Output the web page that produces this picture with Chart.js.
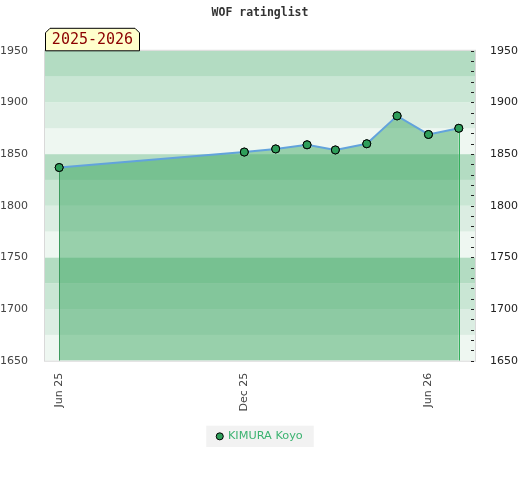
<!DOCTYPE html>
<html>
<head>
<meta charset="utf-8">
<title>WOF ratinglist</title>
<script src="https://cdn.jsdelivr.net/npm/chart.js@4.4.1/dist/chart.umd.min.js"></script>
<style>
  html, body { margin: 0; padding: 0; background: #fff; }
  #wrap { width: 520px; height: 480px; }
</style>
</head>
<body>
<div id="wrap"><canvas id="ratingChart" width="520" height="480"></canvas></div>
<script>
const titleText = 'WOF ratinglist';
const seasonLabel = '2025-2026';
const playerName = 'KIMURA Koyo';

const listDates = ['2025-06-01', '2025-12-01', '2026-01-01', '2026-02-01', '2026-03-01',
  '2026-04-01', '2026-05-01', '2026-06-01', '2026-07-01'];
const ratings = [1837, 1852, 1855, 1859, 1854, 1860, 1887, 1869, 1875];

const tickDates = ['2025-06-01', '2025-12-01', '2026-06-01'];
const tickLabels = ['Jun 25', 'Dec 25', 'Jun 26'];

const xMin = '2025-05-18';
const xMax = '2026-07-17';
const yMin = 1650;
const yMax = 1950;

// background stripes, 25 points each, repeating every 100 (from x50 upwards)
const bandColors = ['#eef7f1', '#dbede2', '#c9e6d4', '#b3dcc2'];

const ctx = document.getElementById('ratingChart').getContext('2d');

const stripes = {
  id: 'stripes',
  beforeDatasetsDraw(chart) {
    const { ctx, chartArea: a, scales: { y } } = chart;
    ctx.save();
    for (let v = yMin; v < yMax; v += 25) {
      const top = y.getPixelForValue(v + 25);
      const bottom = y.getPixelForValue(v);
      ctx.fillStyle = bandColors[((v % 100) / 25 + 2) % 4];
      ctx.fillRect(a.left, top, a.right - a.left, bottom - top);
    }
    ctx.restore();
  }
};

const extras = {
  id: 'extras',
  beforeDraw(chart) {
    // legend background
    const box = chart.legend.legendHitBoxes[0];
    if (!box) return;
    const c = chart.ctx;
    c.save();
    c.fillStyle = '#f2f2f2';
    c.fillRect(box.left - 11, box.top - 5, box.width + 22, box.height + 10);
    c.restore();
  },
  afterDatasetsDraw(chart) {
    const { ctx, chartArea: a, scales: { y2 } } = chart;
    const pts = chart.getDatasetMeta(0).data;
    ctx.save();
    // drop lines from first and last point
    ctx.lineWidth = 1;
    [[pts[0], '#3d9a5e'], [pts[pts.length - 1], '#34b05c']].forEach(([p, col]) => {
      ctx.strokeStyle = col;
      ctx.beginPath();
      ctx.moveTo(Math.round(p.x) + 0.5, p.y);
      ctx.lineTo(Math.round(p.x) + 0.5, a.bottom);
      ctx.stroke();
    });
    // plot border
    ctx.strokeStyle = '#d9d9d9';
    ctx.strokeRect(a.left - 0.5, a.top - 0.5, a.right - a.left + 1, a.bottom - a.top + 1);
    // minor tick marks on the right axis, drawn inside
    ctx.strokeStyle = '#222';
    y2.ticks.forEach(t => {
      const py = Math.round(y2.getPixelForValue(t.value)) + 0.5;
      ctx.beginPath();
      ctx.moveTo(a.right - 4, py);
      ctx.lineTo(a.right - 1, py);
      ctx.stroke();
    });
    ctx.restore();
    // points again so they sit above drop lines
    pts.forEach(p => p.draw(ctx));
  },
  afterDraw(chart) {
    const { ctx, chartArea: a } = chart;
    const left = a.left, right = a.left + 95, top = a.top - 23, bottom = a.top;
    ctx.save();
    ctx.beginPath();
    ctx.moveTo(left + 0.5, bottom);
    ctx.lineTo(left + 0.5, top + 5);
    ctx.lineTo(left + 5, top + 0.5);
    ctx.lineTo(right - 5, top + 0.5);
    ctx.lineTo(right - 0.5, top + 5);
    ctx.lineTo(right - 0.5, bottom);
    ctx.closePath();
    ctx.fillStyle = '#ffffcc';
    ctx.fill();
    ctx.strokeStyle = '#000';
    ctx.lineWidth = 1;
    ctx.stroke();
    ctx.fillStyle = '#8b0000';
    ctx.font = '15px "DejaVu Sans Mono", monospace';
    ctx.textAlign = 'center';
    ctx.textBaseline = 'middle';
    ctx.fillText(seasonLabel, (left + right) / 2, top + 12);
    ctx.restore();
  }
};

const tickFont = { family: '"DejaVu Sans", sans-serif', size: 11 };

new Chart(ctx, {
  type: 'line',
  data: {
    datasets: [{
      label: playerName,
      data: listDates.map((d, i) => ({ x: Date.parse(d), y: ratings[i] })),
      borderColor: '#62a3dc',
      borderWidth: 2,
      backgroundColor: 'rgba(46, 160, 87, 0.45)',
      fill: 'start',
      tension: 0,
      pointRadius: 4,
      pointHoverRadius: 4,
      pointBackgroundColor: '#2e9e5a',
      pointBorderColor: '#000',
      pointBorderWidth: 1
    }]
  },
  options: {
    responsive: false,
    animation: false,
    layout: { padding: { top: 0, bottom: 28, left: 0, right: 0 } },
    plugins: {
      title: {
        display: true,
        text: titleText,
        color: '#333',
        font: { family: '"DejaVu Sans Mono", monospace', size: 11.5, weight: 'bold' },
        padding: { top: 6, bottom: 31 }
      },
      legend: {
        position: 'bottom',
        labels: {
          usePointStyle: true,
          pointStyle: 'circle',
          boxWidth: 5,
          boxHeight: 5,
          color: '#3cb371',
          font: { family: '"DejaVu Sans", sans-serif', size: 11.3 },
          padding: 10,
          generateLabels: () => [{
            text: playerName,
            fillStyle: '#2e9e5a',
            strokeStyle: '#000',
            lineWidth: 1,
            pointStyle: 'circle',
            fontColor: '#3cb371'
          }]
        }
      },
      tooltip: { enabled: false }
    },
    scales: {
      x: {
        type: 'linear',
        min: Date.parse(xMin),
        max: Date.parse(xMax),
        afterBuildTicks: s => { s.ticks = tickDates.map(d => ({ value: Date.parse(d) })); },
        afterFit: s => { s.height = 60; },
        grid: { display: false },
        border: { display: false },
        ticks: {
          minRotation: 90,
          maxRotation: 90,
          padding: 4,
          color: '#444',
          font: tickFont,
          callback: (v, i) => tickLabels[i]
        }
      },
      y: {
        position: 'left',
        min: yMin,
        max: yMax,
        afterFit: s => { s.width = 45; },
        grid: { display: false },
        border: { display: false },
        ticks: { stepSize: 50, padding: 9, color: '#444', font: tickFont, callback: v => String(v) }
      },
      y2: {
        position: 'right',
        min: yMin,
        max: yMax,
        afterFit: s => { s.width = 45; },
        grid: { display: false },
        border: { display: false },
        ticks: {
          stepSize: 10,
          autoSkip: false,
          padding: 7,
          color: '#222',
          font: tickFont,
          callback: v => (v % 50 === 0 ? String(v) : '')
        }
      }
    }
  },
  plugins: [stripes, extras]
});
</script>
</body>
</html>
